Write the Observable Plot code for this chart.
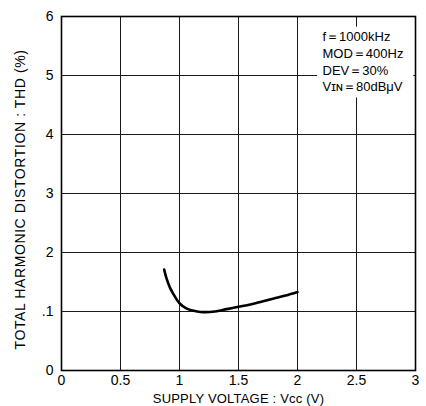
<!DOCTYPE html>
<html><head><meta charset="utf-8">
<script src="https://cdn.jsdelivr.net/npm/d3@7"></script>
<script src="https://cdn.jsdelivr.net/npm/@observablehq/plot@0.6"></script>
<style>
body{margin:0;background:#fff}
#chart svg{font-family:"Liberation Sans",Arial,Helvetica,sans-serif;background:#fff}
</style>
</head><body><div id="chart"></div>
<script>
const supplyVoltage = [0.87, 0.89, 0.92, 0.95, 0.98, 1.0, 1.05, 1.1, 1.15, 1.2, 1.3, 1.4, 1.5, 1.6, 1.7, 1.8, 1.9, 2.0];
const thd =           [1.71, 1.56, 1.40, 1.29, 1.19, 1.14, 1.06, 1.02, 1.00, 0.99, 1.00, 1.04, 1.08, 1.12, 1.17, 1.22, 1.27, 1.33];
const xTicks = [0, 0.5, 1, 1.5, 2, 2.5, 3];
const xTickLabels = ["0", "0.5", "1", "1.5", "2", "2.5", "3"];
const yTicks = [0, 1, 2, 3, 4, 5, 6];
const yTickLabels = ["0", ".1", "2", "3", "4", "5", "6"];
const noteLines = ["f\uFF1D1000kHz", "MOD\uFF1D400Hz", "DEV\uFF1D30%", "V\u026A\u0274\uFF1D80dB\u03BCV"];
const noteBox = [{x1: 2.17, x2: 2.985, y1: 4.62, y2: 5.82}];
const xLabel = "SUPPLY VOLTAGE : Vcc (V)";
const yLabel = "TOTAL HARMONIC DISTORTION : THD (%)";

const curve = supplyVoltage.map((v, i) => ({v, t: thd[i]}));

const chart = Plot.plot({
  width: 426,
  height: 406,
  marginLeft: 61,
  marginRight: 11,
  marginTop: 16,
  marginBottom: 36,
  x: {domain: [0, 3]},
  y: {domain: [0, 6]},
  marks: [
    Plot.ruleX(xTicks, {stroke: "#1a1a1a", strokeWidth: 1}),
    Plot.ruleY(yTicks, {stroke: "#1a1a1a", strokeWidth: 1}),
    Plot.rect(noteBox, {x1: "x1", x2: "x2", y1: "y1", y2: "y2", fill: "white"}),
    Plot.frame({stroke: "#000", strokeWidth: 1.6}),
    Plot.line(curve, {x: "v", y: "t", curve: "catmull-rom", stroke: "#000", strokeWidth: 2.6}),
    Plot.text([noteLines.join("\n")], {frameAnchor: "top-right", textAnchor: "start", dx: -93, dy: 13, lineHeight: 1.28, fontSize: 13, fill: "#000"}),
    Plot.axisX({ticks: xTicks, tickFormat: (d, i) => xTickLabels[i], tickSize: 0, tickPadding: 5, fontSize: 14, label: null}),
    Plot.axisY({ticks: yTicks, tickFormat: (d, i) => yTickLabels[i], tickSize: 0, tickPadding: 8, fontSize: 14, label: null}),
    Plot.axisX({ticks: [], label: xLabel, labelAnchor: "center", labelArrow: "none", labelOffset: 32, fontSize: 13}),
    Plot.axisY({ticks: [], label: yLabel, labelAnchor: "center", labelArrow: "none", labelOffset: 46, fontSize: 14})
  ]
});
d3.select(chart).selectAll('g[aria-label="x-axis label"] text').attr("letter-spacing", 0.2);
d3.select(chart).selectAll('g[aria-label="y-axis label"] text').attr("letter-spacing", 0.6).attr("dx", -6);
document.getElementById("chart").append(chart);
</script>
</body></html>
